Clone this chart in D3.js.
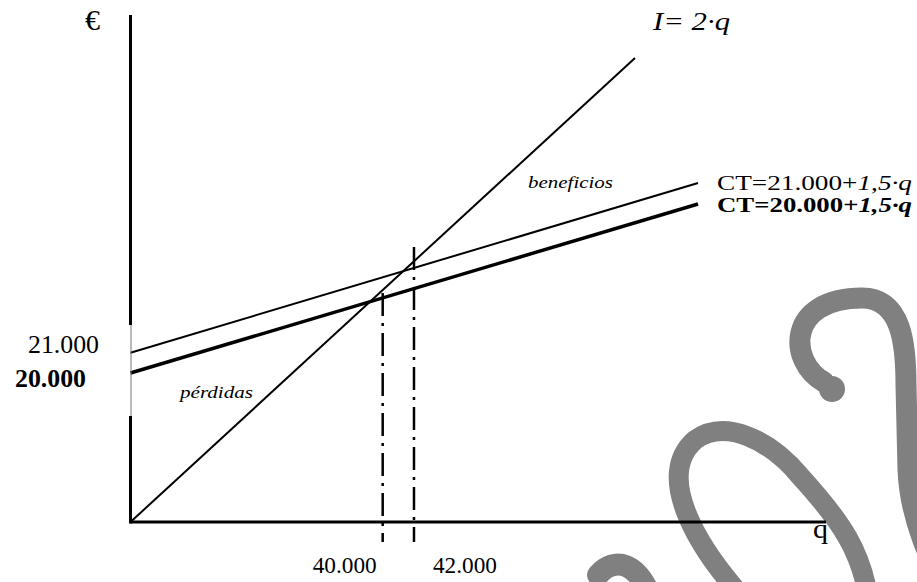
<!DOCTYPE html>
<html>
<head>
<meta charset="utf-8">
<script src="https://cdn.jsdelivr.net/npm/d3@7"></script>
<style>
  body { margin: 0; background: #fff; }
</style>
</head>
<body>
<svg id="chart"></svg>
<script>
var dimensions = {
    width: 917,
    height: 582,
    origin: { x: 130.5, y: 522 },
    right: 826,
    top: 15
}

// schematic chart units (0-100 on each axis)
var incomeLine = [[0, 0], [72.54, 91.52]];
var costLine21 = [[0, 33.39], [81.6, 66.86]];
var costLine20 = [[0, 29.39], [81.6, 62.72]];

var breakEvenQ = [36.26, 40.76];
var breakEvenTop = [45.17, 54.24];
var breakEvenBottom = -3.94;
var qLabels = ["40.000", "42.000"];

var fixedCost = [33.39, 29.39];
var fixedCostLabels = ["21.000", "20.000"];

var axisBreak = [38.86, 20.91];

var font = "'Liberation Serif', 'Times New Roman', Times, serif";

var svg = d3.select("#chart")
    .attr("width", dimensions.width)
    .attr("height", dimensions.height)
    .attr("font-family", font)

var xScale = d3.scaleLinear()
    .domain([0, 100])
    .range([dimensions.origin.x, dimensions.right])
var yScale = d3.scaleLinear()
    .domain([0, 100])
    .range([dimensions.origin.y, dimensions.top])

// grey watermark behind the chart
var wm = svg.append("g").attr("fill", "none").attr("stroke", "#808080").attr("stroke-linecap", "round")
wm.append("path")
    .attr("d", "M 824 382 C 788 362, 786 298, 862 298 C 902 298, 906 345, 906 385 L 908 470 C 910 520, 930 560, 955 610")
    .attr("stroke-width", 21)
wm.append("circle").attr("cx", 832).attr("cy", 389).attr("r", 13).attr("fill", "#808080").attr("stroke", "none")
wm.append("path")
    .attr("d", "M 745 600 C 695 545, 655 475, 695 440 C 725 418, 770 440, 800 476 C 840 520, 864 552, 870 610")
    .attr("stroke-width", 20)
wm.append("path")
    .attr("d", "M 598 575 C 615 556, 638 562, 652 600")
    .attr("stroke-width", 22)

var line = d3.line()
    .x(d => xScale(d[0]))
    .y(d => yScale(d[1]))

svg.append("path").datum(incomeLine).attr("d", line)
    .attr("stroke", "#000").attr("stroke-width", 2).attr("fill", "none")
svg.append("path").datum(costLine21).attr("d", line)
    .attr("stroke", "#000").attr("stroke-width", 2).attr("fill", "none")
svg.append("path").datum(costLine20).attr("d", line)
    .attr("stroke", "#000").attr("stroke-width", 3.5).attr("fill", "none")

svg.selectAll(".breakeven")
    .data(breakEvenQ)
    .enter()
    .append("line")
    .attr("class", "breakeven")
    .attr("x1", d => xScale(d))
    .attr("x2", d => xScale(d))
    .attr("y1", (d, i) => yScale(breakEvenTop[i]))
    .attr("y2", yScale(breakEvenBottom))
    .attr("stroke", "#000")
    .attr("stroke-width", 2.5)
    .attr("stroke-dasharray", "23,7,3,7")

// axes (y axis broken by a thin segment)
svg.append("line")
    .attr("x1", xScale(0)).attr("x2", xScale(100))
    .attr("y1", yScale(0)).attr("y2", yScale(0))
    .attr("stroke", "#000").attr("stroke-width", 3)
svg.append("line")
    .attr("x1", xScale(0)).attr("x2", xScale(0))
    .attr("y1", yScale(0) + 1.5).attr("y2", yScale(axisBreak[1]))
    .attr("stroke", "#000").attr("stroke-width", 3)
svg.append("line")
    .attr("x1", xScale(0)).attr("x2", xScale(0))
    .attr("y1", yScale(axisBreak[0])).attr("y2", yScale(100))
    .attr("stroke", "#000").attr("stroke-width", 3)
svg.append("line")
    .attr("x1", xScale(0) + 0.5).attr("x2", xScale(0) + 0.5)
    .attr("y1", yScale(axisBreak[0])).attr("y2", yScale(axisBreak[1]))
    .attr("stroke", "#777").attr("stroke-width", 1)

function label(x, y, size, width, parts, bold) {
    var t = svg.append("text")
        .attr("x", x).attr("y", y)
        .attr("font-family", font)
        .attr("font-size", size)
        .attr("textLength", width)
        .attr("lengthAdjust", "spacingAndGlyphs")
        .attr("font-weight", bold ? "bold" : "normal")
    parts.forEach(function(p) {
        t.append("tspan").text(p[0]).attr("font-style", p[1] ? "italic" : "normal")
    })
    return t
}

label(85, 30, 30, 15, [["€", false]])
label(653, 30, 26, 77, [["I= 2·q", true]])
label(717, 190, 20, 195, [["CT=21.000+", false], ["1,5·q", true]])
label(717, 212, 20, 195, [["CT=20.000+", false], ["1,5·q", true]], true)
label(528, 188, 17, 85, [["beneficios", true]])
label(180, 398, 17, 73, [["pérdidas", true]])
label(813, 538, 28, 15, [["q", false]])

svg.selectAll(".ylab")
    .data(fixedCostLabels)
    .enter()
    .append("text")
    .attr("class", "ylab")
    .attr("font-family", font)
    .attr("x", (d, i) => i == 0 ? 28 : 15)
    .attr("y", (d, i) => yScale(fixedCost[i]) + (i == 0 ? 0 : 14))
    .attr("font-size", 26)
    .attr("font-weight", (d, i) => i == 1 ? "bold" : "normal")
    .attr("textLength", 71)
    .attr("lengthAdjust", "spacingAndGlyphs")
    .text(d => d)

svg.selectAll(".xlab")
    .data(qLabels)
    .enter()
    .append("text")
    .attr("class", "xlab")
    .attr("font-family", font)
    .attr("x", (d, i) => xScale(breakEvenQ[i]) - (i == 0 ? 70 : -19))
    .attr("y", 573)
    .attr("font-size", 24)
    .attr("textLength", 64)
    .attr("lengthAdjust", "spacingAndGlyphs")
    .text(d => d)
</script>
</body>
</html>
